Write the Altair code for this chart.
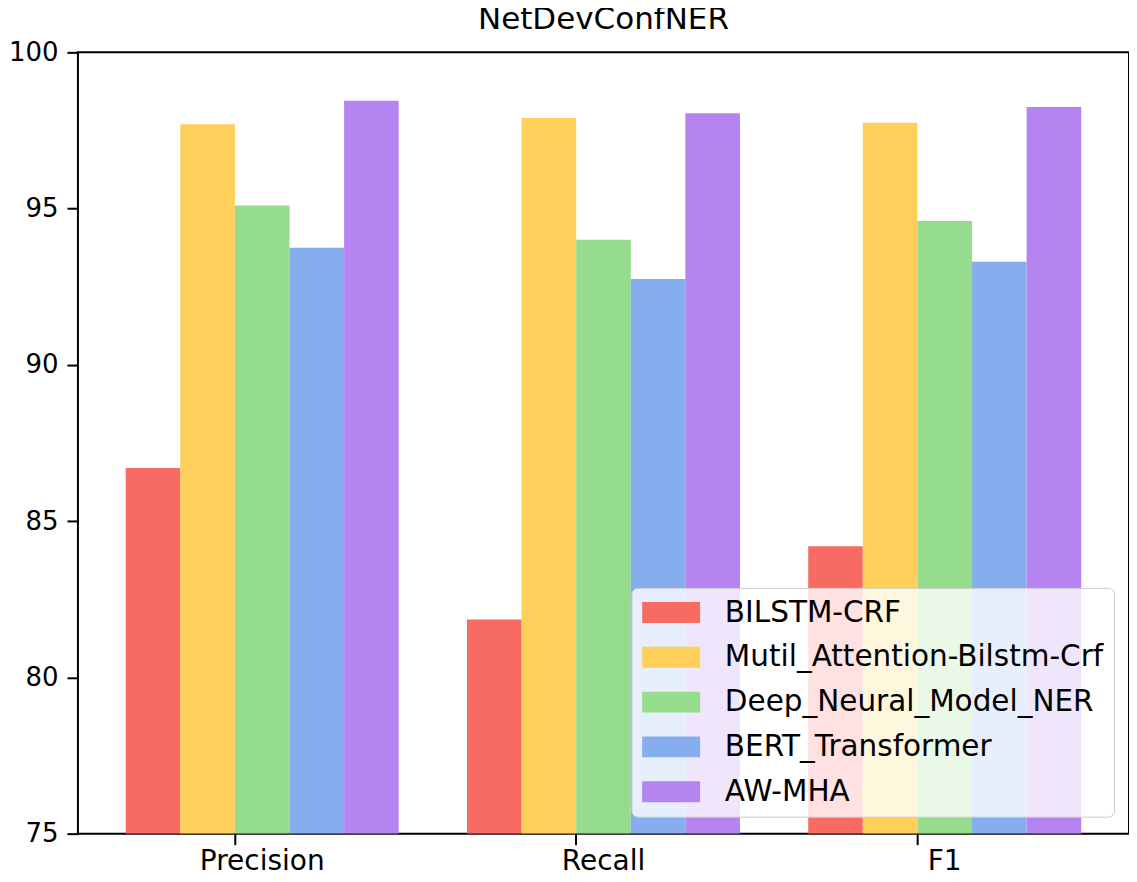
import altair as alt
import pandas as pd

metrics = ["Precision", "Recall", "F1"]
models = ["BILSTM-CRF", "Mutil_Attention-Bilstm-Crf", "Deep_Neural_Model_NER",
          "BERT_Transformer", "AW-MHA"]
colors = ["#F86B63", "#FECF5A", "#95DC8D", "#86AEEF", "#B584F1"]

bilstm = [86.7, 81.85, 84.2]
mutil = [97.7, 97.9, 97.75]
deep = [95.1, 94.0, 94.6]
bert = [93.75, 92.75, 93.3]
awmha = [98.45, 98.05, 98.25]
yticks = [75, 80, 85, 90, 95, 100]

rows = []
for model, vals in zip(models, [bilstm, mutil, deep, bert, awmha]):
    for m, v in zip(metrics, vals):
        rows.append({"metric": m, "model": model, "value": v})
df = pd.DataFrame(rows)

FONT = "DejaVu Sans"

bars = alt.Chart(df).mark_bar(clip=True).encode(
    x=alt.X("metric:N", sort=metrics, title=None,
            scale=alt.Scale(paddingInner=0.2, paddingOuter=0.14),
            axis=alt.Axis(labelAngle=0, bandPosition=0.4, labelPadding=3,
                          labelFontSize=28)),
    xOffset=alt.XOffset("model:N", sort=models,
                        scale=alt.Scale(paddingInner=0, paddingOuter=0)),
    y=alt.Y("value:Q", title=None,
            scale=alt.Scale(domain=[75, 100], zero=False, nice=False),
            axis=alt.Axis(values=yticks, labelPadding=9, labelFontSize=26)),
    y2=alt.datum(75),
    color=alt.Color("model:N", sort=models,
                    scale=alt.Scale(domain=models, range=colors),
                    legend=alt.Legend(
                        title=None, orient="none", legendX=554, legendY=536,
                        symbolType="M-1.4,-1.05H4.4V1.05H-1.4Z", symbolSize=400,
                        symbolStrokeWidth=0, symbolOpacity=1,
                        labelFontSize=29.5, labelFont=FONT, labelColor="black",
                        labelOffset=54, rowPadding=13.8, labelLimit=600,
                        fillColor="rgba(255,255,255,0.8)", strokeColor="#cccccc",
                        cornerRadius=6, padding=10)),
).properties(
    width=1052, height=782,
    title=alt.TitleParams("NetDevConfNER", fontSize=31, font=FONT,
                          fontWeight="normal", color="black",
                          offset=3, anchor="middle"),
    autosize=alt.AutoSizeParams(type="none"),
    padding={"left": 70, "top": 44, "right": 0, "bottom": 40},
).configure_view(
    stroke="black", strokeWidth=2
).configure_axis(
    domain=False, grid=False, tickColor="black", tickWidth=2, tickSize=11,
    labelFont=FONT, labelColor="black"
)

bars.save("out.html", embed_options={"renderer": "svg", "actions": False})
